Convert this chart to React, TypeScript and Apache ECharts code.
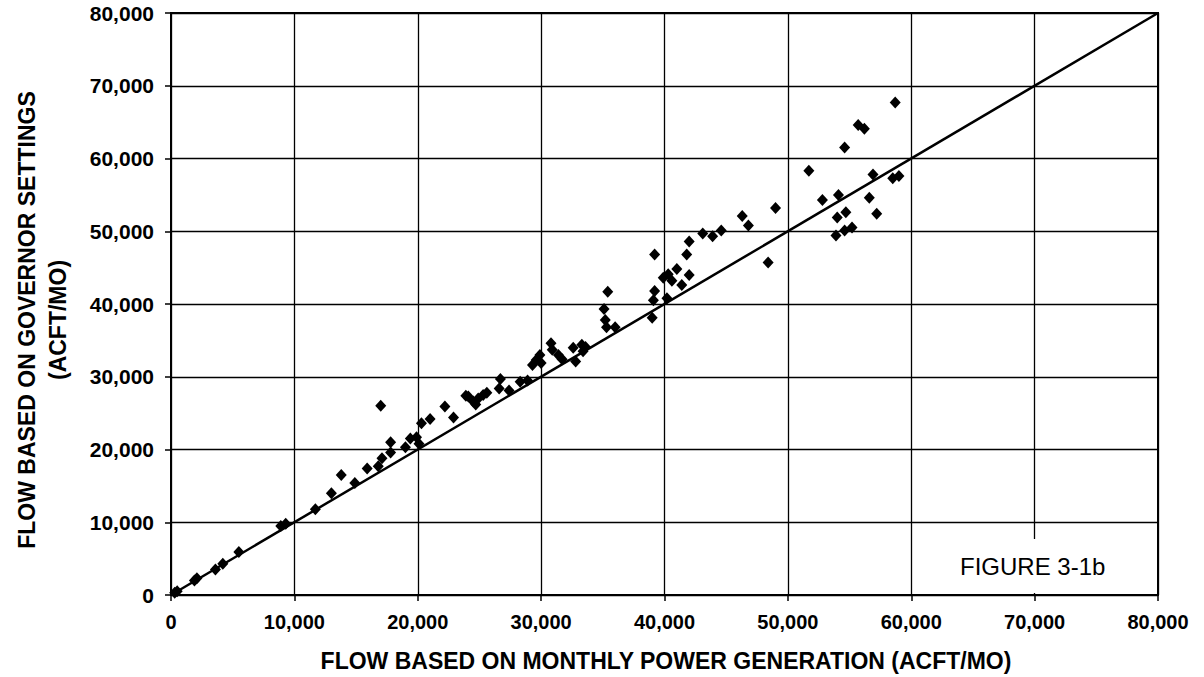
import React, { useEffect, useRef } from "react";
import * as echarts from "echarts";

// Flow based on monthly power generation (ACFT/MO)
const powerGenFlow: number[] = [
  300, 500, 1900, 2100, 3600, 4200, 5500, 8900, 9300, 11700,
  13000, 13800, 14900, 15900, 16800, 17100, 17000, 17800, 17800, 19000,
  19400, 19900, 20100, 20300, 21000, 22200, 22900, 24100, 24500, 24900,
  25300, 24700, 23900, 25600, 26700, 26600, 27400, 28300, 28900, 29300,
  29600, 29900, 30000, 30800, 30900, 31400, 31700, 32600, 32800, 33300,
  33400, 33600, 35100, 35200, 35300, 36000, 35400, 39100, 39000, 39200,
  39200, 39900, 40300, 40600, 40200, 41000, 41400, 41800, 42000, 42000,
  43100, 43900, 44600, 46300, 46800, 48400, 49000, 51700, 52800, 54100,
  54000, 54700, 53900, 54600, 55200, 54600, 55700, 56200, 56600, 56900,
  57200, 58500, 59000, 58700,
];

// Flow based on governor settings (ACFT/MO)
const governorFlow: number[] = [
  300, 500, 2000, 2300, 3500, 4300, 5900, 9500, 9800, 11800,
  14000, 16500, 15400, 17400, 17700, 18800, 26000, 21000, 19600, 20300,
  21500, 21700, 20800, 23600, 24200, 25900, 24400, 27300, 26600, 27000,
  27500, 26200, 27400, 27800, 29700, 28400, 28100, 29300, 29500, 31600,
  32300, 33000, 31900, 34600, 33700, 33000, 32400, 34000, 32100, 34400,
  33500, 34100, 39300, 37800, 36800, 36800, 41700, 40500, 38100, 46800,
  41800, 43600, 44100, 43200, 40800, 44800, 42600, 46800, 44000, 48600,
  49700, 49300, 50100, 52100, 50800, 45700, 53200, 58300, 54300, 55000,
  51900, 52600, 49400, 50100, 50500, 61500, 64600, 64100, 54600, 57800,
  52400, 57300, 57600, 67700,
];

// One-to-one reference line
const equalityLine: number[][] = [
  [0, 0],
  [80000, 80000],
];

const xTitle = "FLOW BASED ON MONTHLY POWER GENERATION (ACFT/MO)";
const yTitleLine1 = "FLOW BASED ON GOVERNOR SETTINGS";
const yTitleLine2 = "(ACFT/MO)";
const figureLabel = "FIGURE 3-1b";

const FONT = "'Liberation Sans', Arial, Helvetica, sans-serif";

export default function App() {
  const ref = useRef<HTMLDivElement>(null);

  useEffect(() => {
    if (!ref.current) return;
    const chart = echarts.init(ref.current, null, { renderer: "svg" });
    const points = powerGenFlow.map((x, i) => [x, governorFlow[i]]);
    const fmt = (v: number) => v.toLocaleString("en-US");

    const axisCommon = {
      type: "value" as const,
      min: 0,
      max: 80000,
      interval: 10000,
      axisLine: { show: true, lineStyle: { color: "#000", width: 2 } },
      axisTick: { show: true, inside: false, length: 6, lineStyle: { color: "#000", width: 1.5 } },
      splitLine: { show: true, lineStyle: { color: "#000", width: 1.3 } },
    };

    chart.setOption({
      animation: false,
      backgroundColor: "#fff",
      grid: {
        left: 171,
        right: 46,
        top: 13,
        bottom: 82,
        show: true,
        borderColor: "#000",
        borderWidth: 2,
        containLabel: false,
        outerBoundsMode: "none",
      },
      xAxis: {
        ...axisCommon,
        axisLabel: {
          formatter: fmt,
          color: "#000",
          fontFamily: FONT,
          fontWeight: "bold",
          fontSize: 20,
          margin: 17,
        },
      },
      yAxis: {
        ...axisCommon,
        axisLabel: {
          formatter: fmt,
          color: "#000",
          fontFamily: FONT,
          fontWeight: "bold",
          fontSize: 21,
          margin: 17,
        },
      },
      series: [
        {
          type: "line",
          data: equalityLine,
          symbol: "none",
          lineStyle: { color: "#000", width: 2.5 },
          z: 3,
        },
        {
          type: "scatter",
          data: points,
          symbol: "diamond",
          symbolSize: [11, 12],
          itemStyle: { color: "#000", opacity: 1 },
          z: 4,
        },
      ],
      graphic: [
        {
          type: "text",
          x: 666,
          y: 661,
          style: {
            text: xTitle,
            fill: "#000",
            font: `bold 23px ${FONT}`,
            align: "center",
            verticalAlign: "middle",
          },
        },
        {
          type: "text",
          x: 27,
          y: 320,
          rotation: Math.PI / 2,
          style: {
            text: yTitleLine1,
            fill: "#000",
            font: `bold 23px ${FONT}`,
            align: "center",
            verticalAlign: "middle",
          },
        },
        {
          type: "text",
          x: 58,
          y: 320,
          rotation: Math.PI / 2,
          style: {
            text: yTitleLine2,
            fill: "#000",
            font: `bold 23px ${FONT}`,
            align: "center",
            verticalAlign: "middle",
          },
        },
        {
          type: "rect",
          z: 100,
          shape: { x: 948, y: 539, width: 172, height: 54 },
          style: { fill: "#fff" },
        },
        {
          type: "text",
          z: 101,
          x: 960,
          y: 566,
          style: {
            text: figureLabel,
            fill: "#000",
            font: `24px ${FONT}`,
            align: "left",
            verticalAlign: "middle",
          },
        },
      ],
    });

    return () => chart.dispose();
  }, []);

  return (
    <div
      ref={ref}
      style={{ position: "fixed", left: 0, top: 0, width: 1204, height: 677, background: "#fff" }}
    />
  );
}
